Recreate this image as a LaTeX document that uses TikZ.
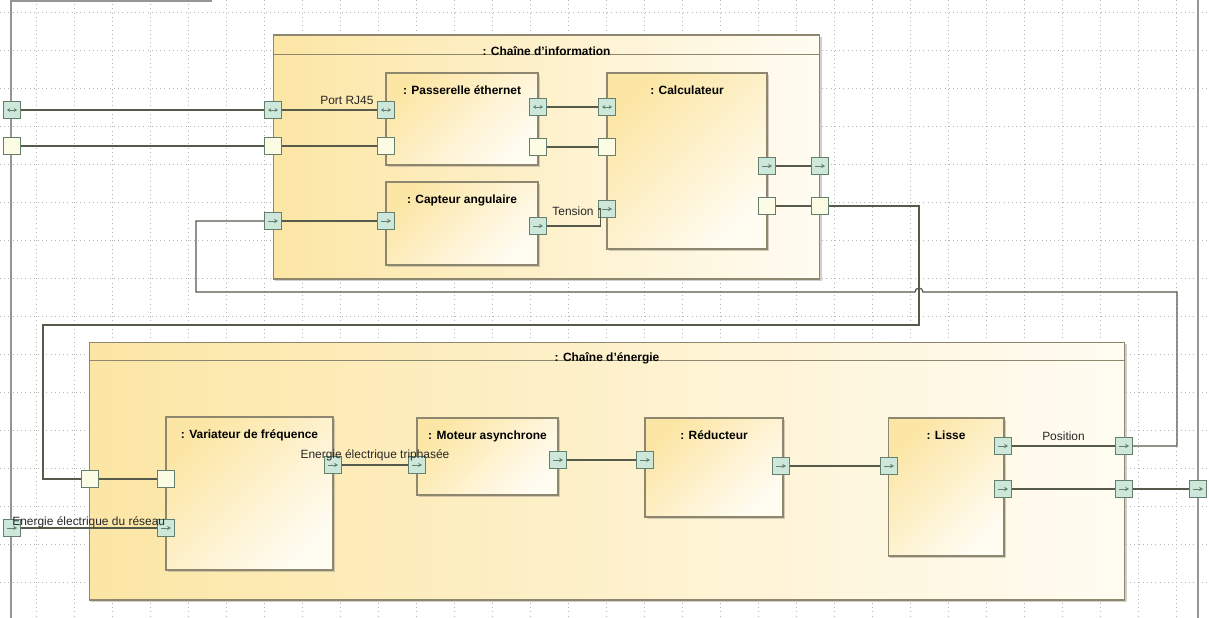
\documentclass[tikz,border=0pt]{standalone}
\usepackage{fontspec}
\setmainfont{Liberation Sans}
\usetikzlibrary{arrows.meta, calc, positioning, shadows}
\definecolor{cLine}{RGB}{85,90,75}
\definecolor{cFrame}{RGB}{150,150,150}
\definecolor{cGrid}{RGB}{180,180,180}
\definecolor{cBorder}{RGB}{140,135,110}
\definecolor{cYelA}{RGB}{252,230,165}
\definecolor{cYelB}{RGB}{255,252,242}
\definecolor{cPortT}{RGB}{205,231,218}
\definecolor{cPortY}{RGB}{252,252,228}
\definecolor{cPortD}{RGB}{100,128,108}
\definecolor{cShadow}{RGB}{165,160,145}
\tikzset{
  chainblk/.style={draw=cBorder, line width=0.6pt, inner sep=0pt,
             left color=cYelA, right color=cYelB,
             drop shadow={shadow xshift=1pt, shadow yshift=-1pt, fill=cShadow}},
  partblk/.style={draw=cBorder, line width=0.6pt, inner sep=0pt,
             top color=cYelA, bottom color=cYelB, shading angle=45,
             drop shadow={shadow xshift=1.2pt, shadow yshift=-1.2pt, fill=cShadow}},
  ttl/.style={font=\bfseries\fontsize{6.8}{8}\selectfont, inner sep=1pt,
             text height=1.6ex, text depth=0.4ex},
  lbl/.style={font=\fontsize{6.8}{8}\selectfont, inner sep=0pt, text=black!85},
  port/.style={draw=cPortD, line width=0.5pt, minimum size=0.33cm, inner sep=0pt},
  pPlain/.style={port, fill=cPortY},
  pOut/.style={port, fill=cPortT, path picture={
      \draw[cPortD, line width=0.45pt, -{Stealth[length=2.2pt,width=2.4pt]}]
        ([xshift=-0.1cm]path picture bounding box.center) --
        ([xshift=0.1cm]path picture bounding box.center);}},
  pBi/.style={port, fill=cPortT, path picture={
      \draw[cPortD, line width=0.45pt,
            {Stealth[length=1.8pt,width=2.2pt]}-{Stealth[length=1.8pt,width=2.2pt]}]
        ([xshift=-0.1cm]path picture bounding box.center) --
        ([xshift=0.1cm]path picture bounding box.center);}},
  wire/.style={cLine, line width=0.7pt},
  gridln/.style={cGrid, dotted, line width=0.4pt},
  frm/.style={cFrame, line width=0.9pt},
}

\begin{document}
\begin{tikzpicture}[x=0.02cm, y=-0.02cm]

\useasboundingbox (0,0) rectangle (1209,618);
\clip (0,0) rectangle (1209,618);
\fill[white] (0,0) rectangle (1209,618);

%% ============================================================
%% GRID AND OUTER FRAME
%% ============================================================
\foreach \gx in {36,74,...,1208}
  \draw[gridln] (\gx,0) -- (\gx,618);
\foreach \gy in {12,50,...,617}
  \draw[gridln] (0,\gy) -- (1209,\gy);

\draw[frm] (11,-20) -- (11,640);
\draw[frm] (1198,-20) -- (1198,640);
\draw[frm] (11,1) -- (212,1);

%% ============================================================
%% CHAINE D'INFORMATION
%% ============================================================
\node[chainblk, minimum width=10.94cm, minimum height=4.88cm] (info) at (546.5,157) {};
\draw[cBorder, line width=0.6pt]
  ([yshift=-0.4cm]info.north west) -- ([yshift=-0.4cm]info.north east);
\node[ttl, below=0.08cm of info.north] (infoT) {: Chaîne d'information};

\node[partblk, minimum width=3.04cm, minimum height=1.84cm] (pass) at (462,119) {};
\node[ttl, below=0.1cm of pass.north] (passT) {: Passerelle éthernet};

\node[partblk, minimum width=3.04cm, minimum height=1.66cm] (capt) at (462,223.5) {};
\node[ttl, below=0.1cm of capt.north] (captT) {: Capteur angulaire};

\node[partblk, minimum width=3.2cm, minimum height=3.52cm] (calc) at (687,161) {};
\node[ttl, below=0.1cm of calc.north] (calcT) {: Calculateur};

%% ============================================================
%% CHAINE D'ENERGIE
%% ============================================================
\node[chainblk, minimum width=20.72cm, minimum height=5.16cm] (ener) at (607,471) {};
\draw[cBorder, line width=0.6pt]
  ([yshift=-0.38cm]ener.north west) -- ([yshift=-0.38cm]ener.north east);
\node[ttl, below=0.07cm of ener.north] (enerT) {: Chaîne d'énergie};

\node[partblk, minimum width=3.34cm, minimum height=3.06cm] (vari) at (249.5,493.5) {};
\node[ttl, below=0.1cm of vari.north] (variT) {: Variateur de fréquence};

\node[partblk, minimum width=2.82cm, minimum height=1.54cm] (mot) at (487.5,456.5) {};
\node[ttl, below=0.1cm of mot.north] (motT) {: Moteur asynchrone};

\node[partblk, minimum width=2.76cm, minimum height=1.98cm] (red) at (714,467.5) {};
\node[ttl, below=0.1cm of red.north] (redT) {: Réducteur};

\node[partblk, minimum width=2.32cm, minimum height=2.76cm] (lis) at (946,487) {};
\node[ttl, below=0.1cm of lis.north] (lisT) {: Lisse};

%% ============================================================
%% PORTS
%% ============================================================
% outer frame
\node[pBi]    (eL1) at (12,110) {};
\node[pPlain] (eL2) at (12,146) {};
\node[pOut]   (eL3) at (12,528) {};
\node[pOut]   (oR)  at (1198,489) {};
% information chain
\node[pBi]    (iL1) at (273,110) {};
\node[pPlain] (iL2) at (273,146) {};
\node[pOut]   (iL3) at (273,221) {};
\node[pOut]   (iR1) at (820,166) {};
\node[pPlain] (iR2) at (820,206) {};
\node[pBi]    (pL1) at (386,110) {};
\node[pPlain] (pL2) at (386,146) {};
\node[pBi]    (pR1) at (538,107) {};
\node[pPlain] (pR2) at (538,147) {};
\node[pOut]   (cL)  at (386,221) {};
\node[pOut]   (cR)  at (538,226) {};
\node[pBi]    (kL1) at (607,107) {};
\node[pPlain] (kL2) at (607,147) {};
\node[pOut]   (kT)  at (607,209) {};
\node[pOut]   (kR1) at (767,166) {};
\node[pPlain] (kR2) at (767,206) {};
% energy chain
\node[pPlain] (eB)  at (90,479) {};
\node[pPlain] (vL1) at (166,479) {};
\node[pOut]   (vL2) at (166,528) {};
\node[pOut]   (vR)  at (333,465) {};
\node[pOut]   (mL)  at (417,465) {};
\node[pOut]   (mR)  at (558,460) {};
\node[pOut]   (rL)  at (645,460) {};
\node[pOut]   (rR)  at (781,466) {};
\node[pOut]   (lL)  at (889,466) {};
\node[pOut]   (lR1) at (1003,446) {};
\node[pOut]   (lR2) at (1003,489) {};
\node[pOut]   (eR1) at (1124,446) {};
\node[pOut]   (eR2) at (1124,489) {};

%% ============================================================
%% CONNECTORS
%% ============================================================
\coordinate (c1)  at (919,325);
\coordinate (c2)  at (43,325);
\coordinate (d1)  at (1177,292);
\coordinate (hop) at (919,292);
\coordinate (d2)  at (196,292);

\draw[wire] (eL1.east) -- (iL1.west);
\draw[wire] (iL1.east) -- (pL1.west);
\draw[wire] (eL2.east) -- (iL2.west);
\draw[wire] (iL2.east) -- (pL2.west);
\draw[wire] (iL3.east) -- (cL.west);
\draw[wire] (pR1.east) -- (kL1.west);
\draw[wire] (pR2.east) -- (kL2.west);
\draw[wire] (cR.east) -- ++(54,0) |- (kT.west);
\draw[wire] (kR1.east) -- (iR1.west);
\draw[wire] (kR2.east) -- (iR2.west);

\draw[wire] (iR2.east) -| (c1) -- (c2) |- (eB.west);
\draw[wire] (eR1.east) -| (d1) -- ([xshift=0.08cm]hop)
  arc[start angle=0, end angle=180, radius=0.08cm] -- (d2) |- (iL3.west);

\draw[wire] (eB.east)  -- (vL1.west);
\draw[wire] (eL3.east) -- (vL2.west);
\draw[wire] (vR.east)  -- (mL.west);
\draw[wire] (mR.east)  -- (rL.west);
\draw[wire] (rR.east)  -- (lL.west);
\draw[wire] (lR1.east) -- (eR1.west);
\draw[wire] (lR2.east) -- (eR2.west);
\draw[wire] (eR2.east) -- (oR.west);

%% ============================================================
%% CONNECTOR LABELS
%% ============================================================
\node[lbl, above left=3pt and 2pt of pL1.west] (lrj) {Port RJ45};
\node[lbl, left=2.5pt of kT.west, yshift=-1.5pt] (lten) {Tension};
\node[lbl, anchor=south west] (lres) at (eL3.center) {Energie électrique du réseau};
\node[lbl, anchor=south, yshift=2pt] (ltri) at ($(vR.east)!0.5!(mL.west)$)
  {Energie électrique triphasée};
\node[lbl, anchor=south, yshift=3pt] (lpos) at ($(lR1.east)!0.5!(eR1.west)$) {Position};

\end{tikzpicture}
\end{document}
